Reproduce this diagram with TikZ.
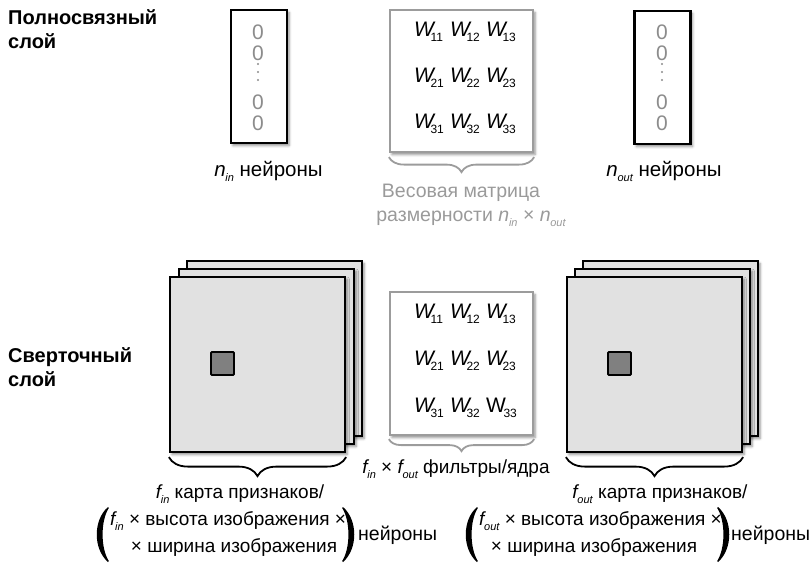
\documentclass[tikz,border=0pt]{standalone}
\usepackage{fontspec}
\setmainfont{Liberation Sans}
\usetikzlibrary{decorations.pathreplacing,shadows.blur}

\definecolor{lgray}{HTML}{E1E1E1}
\definecolor{mgray}{HTML}{808080}
\definecolor{tgray}{HTML}{9A9A9A}
\definecolor{zgray}{HTML}{8C8C8C}
\definecolor{bgray}{HTML}{9C9C9C}

\newcommand{\subx}[1]{\raisebox{-5pt}{\fontsize{11}{11}\selectfont\itshape #1}}
\newcommand{\ital}[2]{{\itshape #1}\kern-0.3pt\subx{#2}}
\newcommand{\Wm}[1]{{\fontsize{21}{21}\selectfont\itshape W}\kern-3.5pt\raisebox{-5pt}{\fontsize{12}{12}\selectfont #1}}
\newcommand{\Wu}[1]{{\fontsize{21}{21}\selectfont W}\kern-2.5pt\raisebox{-5pt}{\fontsize{12}{12}\selectfont #1}}

\begin{document}
\begin{tikzpicture}[x=1pt,y=-1pt,
  font=\fontsize{19}{24}\selectfont,
  shd/.style={blur shadow={shadow xshift=2pt,shadow yshift=-2.5pt,shadow blur radius=2.5pt,shadow opacity=45}},
  vecbox/.style={draw=black,line width=2.2pt,fill=white,shd,inner sep=0pt,minimum width=56pt,minimum height=133pt},
  matbox/.style={draw=bgray,line width=2.2pt,fill=white,shd,inner sep=0pt,minimum width=143pt,minimum height=142pt},
  fmap/.style={draw=black,line width=2.2pt,fill=lgray,shd,inner sep=0pt,minimum width=175pt,minimum height=175pt},
  kbox/.style={draw=black,line width=1.8pt,fill=mgray,rounded corners=1pt,inner sep=0pt,minimum width=23pt,minimum height=23pt},
  brc/.style={decorate,decoration={brace,amplitude=#1},line width=1.8pt},
  txt/.style={inner sep=0pt,anchor=base},
  big/.style={font=\fontsize{20.5}{24}\selectfont},
  ttl/.style={inner sep=0pt,anchor=base west,font=\fontsize{20}{24}\selectfont\bfseries},
  zero/.style={inner sep=0pt,anchor=base,text=zgray,font=\fontsize{21}{21}\selectfont},
  wt/.style={inner sep=0pt,anchor=base west}
]
\useasboundingbox (0,0) rectangle (810,563);

% titles
\node[ttl] (t1a) at (8,24) {Полносвязный};
\node[ttl] (t1b) at (8,48) {слой};
\node[ttl] (t2a) at (8,362) {Сверточный};
\node[ttl] (t2b) at (8,386) {слой};

% ---- fully connected ----
\node[vecbox] (vin) at (259,76.5) {};
\node[vecbox] (vout) at (662.5,77.5) {};
\foreach \cx/\nm in {258/a,662/b}{
  \node[zero] (z1\nm) at (\cx,39) {0};
  \node[zero] (z2\nm) at (\cx,60) {0};
  \node[zero] (z3\nm) at (\cx,109) {0};
  \node[zero] (z4\nm) at (\cx,130) {0};
  \foreach \yy in {64,72,80}{\fill[zgray] (\cx,\yy) circle (1.1pt);}
}
\node[matbox] (m1) at (461.5,81) {};
\foreach \r/\yb in {1/36,2/82,3/128}{
  \node[wt] (w\r1) at (414,\yb) {\Wm{\r1}};
  \node[wt] (w\r2) at (450,\yb) {\Wm{\r2}};
  \node[wt] (w\r3) at (486,\yb) {\Wm{\r3}};
}
\draw[brc=15pt,bgray] ([yshift=-4pt]m1.south east) -- ([yshift=-4pt]m1.south west);

\node[txt,big] (nin) at (268.5,176) {\ital{n}{in} нейроны};
\node[txt,big] (nout) at (664,176) {\ital{n}{out} нейроны};
\node[txt,text=tgray,font=\fontsize{19.5}{24}\selectfont] (wl1) at (461,197) {Весовая матрица};
\node[txt,text=tgray,font=\fontsize{19.5}{24}\selectfont] (wl2) at (471,221) {размерности \ital{n}{in} × \ital{n}{out}};

% ---- convolutional ----
\node[fmap] (la3) at (274.5,348.5) {};
\node[fmap] (la2) at (266.5,356.5) {};
\node[fmap] (la1) at (257.5,364.5) {};
\node[kbox] (lk) at (222.5,363.5) {};

\node[fmap] (ra3) at (670.5,348.5) {};
\node[fmap] (ra2) at (662.5,356.5) {};
\node[fmap] (ra1) at (654.5,364.5) {};
\node[kbox] (rk) at (619.5,363.5) {};

\node[matbox,minimum height=143pt] (m2) at (461.5,363.5) {};
\foreach \r/\yb in {1/318,2/365}{
  \node[wt] (v\r1) at (414,\yb) {\Wm{\r1}};
  \node[wt] (v\r2) at (450,\yb) {\Wm{\r2}};
  \node[wt] (v\r3) at (486,\yb) {\Wm{\r3}};
}
\node[wt] (v31) at (414,412) {\Wm{31}};
\node[wt] (v32) at (450,412) {\Wm{32}};
\node[wt] (v33) at (486,412) {\Wu{33}};

\draw[brc=19pt] ([yshift=-4pt]la1.south east) -- ([yshift=-4pt]la1.south west);
\draw[brc=19pt] ([yshift=-4pt]ra1.south east) -- ([yshift=-4pt]ra1.south west);
\draw[brc=12pt,bgray] ([yshift=-3pt]m2.south east) -- ([yshift=-3pt]m2.south west);

\node[txt] (ff) at (456,473) {\ital{f}{in} × \ital{f}{out} фильтры/ядра};
\node[txt] (fin) at (240,498) {\ital{f}{in} карта признаков/};
\node[txt] (fout) at (660,498) {\ital{f}{out} карта признаков/};

% left parenthesised group
\fill (108,507) .. controls (93,520) and (93,549) .. (108,562)
  -- (108.8,561) .. controls (100.5,548) and (100.5,521) .. (108.8,508) -- cycle;
\node[wt] (lp1) at (110,525) {\ital{f}{in} × высота изображения ×};
\node[txt] (lp2) at (234,552) {× ширина изображения};
\fill (343,507) .. controls (358,520) and (358,549) .. (343,562)
  -- (342.2,561) .. controls (350.5,548) and (350.5,521) .. (342.2,508) -- cycle;
\node[wt,font=\fontsize{19.5}{24}\selectfont] (ln) at (358,540) {нейроны};

% right parenthesised group
\fill (477,507) .. controls (462,520) and (462,549) .. (477,562)
  -- (477.8,561) .. controls (469.5,548) and (469.5,521) .. (477.8,508) -- cycle;
\node[wt] (rp1) at (479,525) {\ital{f}{out} × высота изображения ×};
\node[txt] (rp2) at (594,552) {× ширина изображения};
\fill (718,507) .. controls (733,520) and (733,549) .. (718,562)
  -- (717.2,561) .. controls (725.5,548) and (725.5,521) .. (717.2,508) -- cycle;
\node[wt,font=\fontsize{19.5}{24}\selectfont] (rn) at (731,540) {нейроны};
\end{tikzpicture}
\end{document}
